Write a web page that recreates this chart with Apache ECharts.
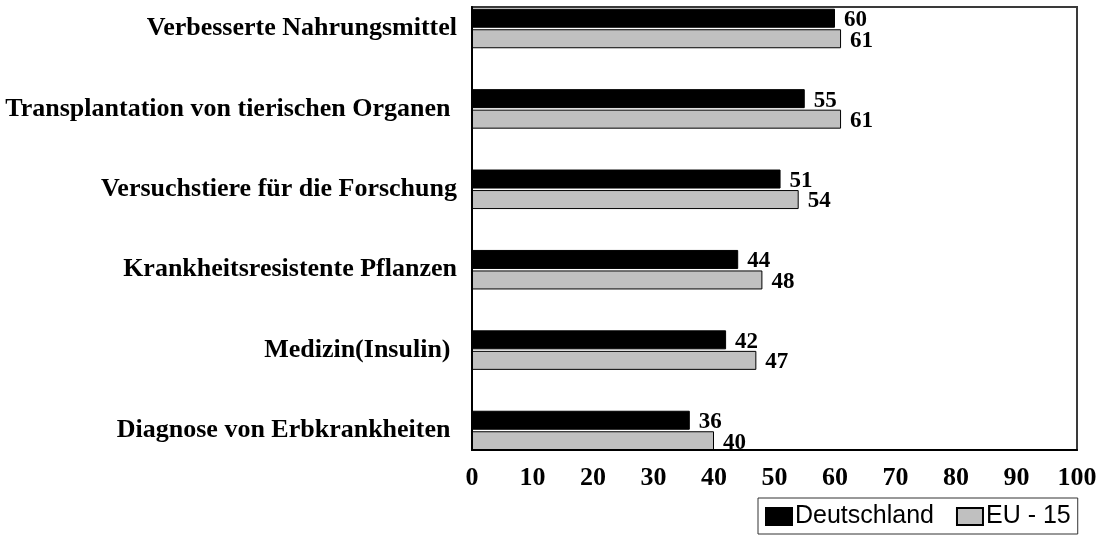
<!DOCTYPE html>
<html>
<head>
<meta charset="utf-8">
<script src="https://cdn.jsdelivr.net/npm/echarts@6/dist/echarts.min.js"></script>
<style>
html,body{margin:0;padding:0;background:#fff;}
#chart{width:1104px;height:536px;}
</style>
</head>
<body>
<div id="chart"></div>
<script>
var categories = [
  'Verbesserte Nahrungsmittel',
  'Transplantation von tierischen Organen ',
  'Versuchstiere für die Forschung',
  'Krankheitsresistente Pflanzen',
  'Medizin(Insulin) ',
  'Diagnose von Erbkrankheiten '
];
var deutschland = [60, 55, 51, 44, 42, 36];
var eu15 = [61, 61, 54, 48, 47, 40];
var xTicks = [0, 10, 20, 30, 40, 50, 60, 70, 80, 90, 100];

var serif = '"Liberation Serif", "Times New Roman", serif';
var chart = echarts.init(document.getElementById('chart'), null, {renderer: 'canvas'});
var labelStyle = {
  show: true, position: 'right', distance: 9, offset: [0, 2],
  fontFamily: serif, fontWeight: 'bold', fontSize: 23, color: '#000'
};
chart.setOption({
  animation: false,
  backgroundColor: '#fff',
  legend: {
    left: 758, top: 498,
    padding: [6, 7, 5, 7],
    itemGap: 22, itemWidth: 26, itemHeight: 17,
    borderColor: '#333', borderWidth: 1, backgroundColor: '#fff',
    icon: 'rect',
    textStyle: {fontFamily: '"Liberation Sans", Arial, sans-serif', fontSize: 25, color: '#000', padding: [0, 0, 0, -2]},
    data: ['Deutschland', 'EU - 15']
  },
  grid: [
    {left: 472, width: 605, top: -11.7, height: 482.4, outerBoundsMode: 'none', containLabel: false},
    {left: 472, width: 605, top: 7, height: 443, outerBoundsMode: 'none', show: true, borderColor: '#3a3a3a', borderWidth: 2, backgroundColor: 'transparent', z: 5}
  ],
  xAxis: [
    {gridIndex: 0, type: 'value', min: 0, max: 100, show: false},
    {gridIndex: 1, type: 'value', min: 0, max: 100, interval: 10, z: 6,
     axisLine: {show: true, lineStyle: {color: '#000', width: 2}},
     axisTick: {show: false}, splitLine: {show: false},
     axisLabel: {margin: 15, fontFamily: serif, fontWeight: 'bold', fontSize: 26, color: '#000',
       formatter: function (v) { return xTicks.indexOf(v) >= 0 ? String(v) : ''; }}}
  ],
  yAxis: [
    {gridIndex: 0, type: 'category', inverse: true, data: categories,
     axisLine: {show: false}, axisTick: {show: false},
     axisLabel: {margin: 15, fontFamily: serif, fontWeight: 'bold', fontSize: 26, color: '#000'}},
    {gridIndex: 1, type: 'value', min: 0, max: 1, z: 6,
     axisLine: {show: true, lineStyle: {color: '#000', width: 2}},
     axisTick: {show: false}, axisLabel: {show: false}, splitLine: {show: false}}
  ],
  series: [
    {name: 'Deutschland', type: 'bar', xAxisIndex: 0, yAxisIndex: 0, data: deutschland,
     barWidth: 19, barGap: '8%',
     itemStyle: {color: '#000', borderColor: '#000', borderWidth: 1},
     label: labelStyle},
    {name: 'EU - 15', type: 'bar', xAxisIndex: 0, yAxisIndex: 0, data: eu15,
     barWidth: 19, barGap: '8%',
     itemStyle: {color: '#c0c0c0', borderColor: '#000', borderWidth: 1},
     label: labelStyle}
  ]
});
</script>
</body>
</html>
